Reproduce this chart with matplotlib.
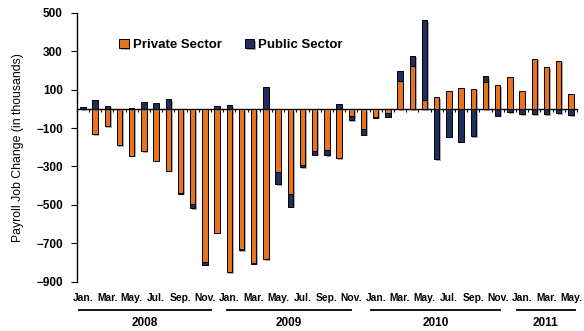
import numpy as np
import matplotlib
matplotlib.use('Agg')
from matplotlib import pyplot as plt
from matplotlib import patheffects

plt.rcParams['font.family'] = ['Liberation Sans', 'DejaVu Sans']
plt.rcParams['font.weight'] = 'bold'

# monthly payroll job change (thousands), Jan 2008 - May 2011
private = [-2, -130, -91, -188, -244, -221, -270, -322, -439, -496, -797, -644,
           -850, -731, -801, -783, -327, -444, -292, -218, -214, -256, -35, -105,
           -42, -23, 143, 226, 47, 61, 92, 108, 106, 141, 125, 165,
           92, 261, 217, 251, 78]
public = [12, 47, 16, 1, 5, 38, 33, 49, -2, -21, -14, 16,
          21, -5, -6, 113, -64, -66, -13, -21, -26, 26, -22, -29,
          -3, -17, 52, 52, 414, -261, -145, -171, -141, 28, -35, -18,
          -26, -26, -26, -21, -31]

month_labels = ['Jan.', 'Mar.', 'May.', 'Jul.', 'Sep.', 'Nov.'] * 3 + ['Jan.', 'Mar.', 'May.']
years = ['2008', '2009', '2010', '2011']
# start/end of the bracket line under each year (in bar index units)
year_spans = [(-0.3, 10.5), (11.8, 22.0), (23.6, 34.2), (35.6, 40.3)]

orange = '#E8731F'
navy = '#1E2E5E'

private = np.array(private)
public = np.array(public)
x = np.arange(len(private))
# public stacks on top of private when both have the same sign
bottom = np.where(np.sign(public) == np.sign(private), private, 0)

fig = plt.figure(figsize=(5.84, 3.31), dpi=100)
ax = fig.add_axes([0.1315, 0.149, 0.8565, 0.812])

shadow = [patheffects.SimplePatchShadow(offset=(1.2, -1.2), shadow_rgbFace='0.35', alpha=0.5),
          patheffects.Normal()]
ax.bar(x, private, width=0.44, color=orange, edgecolor='black', linewidth=0.7,
       label='Private Sector', path_effects=shadow, zorder=3)
ax.bar(x, public, width=0.44, bottom=bottom, color=navy, edgecolor='black', linewidth=0.7,
       label='Public Sector', path_effects=shadow, zorder=3)

ax.set_xlim(-0.5, len(x) - 0.5)
ax.set_ylim(-900, 500)
ax.set_yticks(np.arange(-900, 501, 200))
ax.tick_params(axis='y', direction='out', length=4, width=0.8, pad=6, labelsize=8.5)
ax.set_ylabel('Payroll Job Change (in thousands)', fontsize=8.8, labelpad=9)

for s in ['top', 'right']:
    ax.spines[s].set_visible(False)
ax.spines['left'].set_linewidth(1.0)
ax.spines['bottom'].set_position(('data', 0))
ax.spines['bottom'].set_linewidth(1.0)
ax.set_xticks(np.arange(-0.5, len(x), 1.0))
ax.tick_params(axis='x', direction='out', length=2.5, width=0.8, labelbottom=False)

# month names along the bottom of the plot area
sec = ax.secondary_xaxis(0)
sec.set_xticks(x[::2], month_labels)
sec.tick_params(length=0, pad=8, labelsize=7.4)
sec.spines['bottom'].set_visible(False)

# year brackets
trans = ax.get_xaxis_transform()
for year, (x0, x1) in zip(years, year_spans):
    ax.plot([x0, x1], [-0.105, -0.105], color='black', linewidth=1.3,
            transform=trans, clip_on=False)
    ax.text((x0 + x1) / 2, -0.152, year, transform=trans, ha='center', va='center',
            fontsize=8.5)

ax.legend(loc='center left', bbox_to_anchor=(0.085, 0.88), ncol=2, frameon=False,
          handlelength=0.7, handleheight=0.7, handletextpad=0.3, columnspacing=1.8,
          borderaxespad=0, borderpad=0, prop={'size': 9.5, 'weight': 'bold'})

fig.savefig('out.png', dpi=100)
